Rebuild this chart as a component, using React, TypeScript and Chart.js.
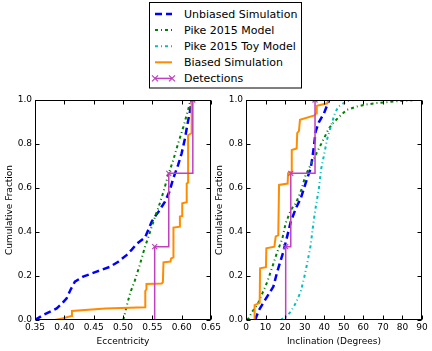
import React, { useEffect, useRef } from "react";
import { Chart, registerables } from "chart.js";

Chart.register(...registerables);

const FONT = "'DejaVu Sans', sans-serif";

// ---------- Eccentricity panel data ----------
const eccUnbiased: [number, number][] = [
  [0.35, 0], [0.364, 0.023], [0.387, 0.053], [0.396, 0.075], [0.404, 0.099], [0.411, 0.14],
  [0.418, 0.174], [0.432, 0.197], [0.455, 0.22], [0.478, 0.242], [0.492, 0.265], [0.506, 0.295],
  [0.515, 0.32], [0.523, 0.345], [0.5375, 0.375], [0.543, 0.409], [0.549, 0.447], [0.557, 0.48],
  [0.563, 0.5], [0.566, 0.515], [0.5716, 0.538], [0.579, 0.583], [0.5857, 0.644], [0.594, 0.705],
  [0.6, 0.758], [0.6057, 0.826], [0.6096, 0.886], [0.614, 0.947], [0.617, 1.0],
];
const eccPike: [number, number][] = [
  [0.5005, 0], [0.506, 0.06], [0.512, 0.121], [0.52, 0.178], [0.529, 0.254], [0.5375, 0.333],
  [0.543, 0.375], [0.549, 0.425], [0.556, 0.48], [0.56, 0.508], [0.569, 0.583], [0.577, 0.659],
  [0.5857, 0.727], [0.594, 0.803], [0.603, 0.879], [0.611, 0.955], [0.615, 1.0],
];
const eccBiased: [number, number][] = [
  [0.384, 0], [0.398, 0.008], [0.412, 0.018], [0.413, 0.041], [0.47, 0.052], [0.538, 0.058],
  [0.538, 0.132], [0.54, 0.14], [0.54, 0.164], [0.566, 0.166], [0.568, 0.172], [0.569, 0.262],
  [0.581, 0.266], [0.582, 0.28], [0.586, 0.285], [0.586, 0.42], [0.597, 0.424], [0.597, 0.47],
  [0.601, 0.473], [0.601, 0.53], [0.6086, 0.535], [0.6086, 0.62], [0.611, 0.625], [0.611, 0.84],
  [0.617, 0.85], [0.617, 1.0],
];
const eccDetections: number[] = [0.554, 0.578, 0.619];

// ---------- Inclination panel data ----------
const incUnbiased: [number, number][] = [
  [4.6, 0], [5.0, 0.008], [6.6, 0.045], [9.2, 0.083], [14.0, 0.152], [16.0, 0.22], [19.1, 0.31],
  [20.8, 0.371], [22.9, 0.447], [25.6, 0.51], [28.0, 0.553], [29.7, 0.6], [31.3, 0.644],
  [33.1, 0.69], [33.9, 0.735], [34.8, 0.795], [35.6, 0.856], [37.3, 0.9], [39.9, 0.94],
  [41.9, 0.985], [42.6, 1.0],
];
const incPike: [number, number][] = [
  [0.5, 0], [1.5, 0.01], [3.2, 0.038], [5.8, 0.068], [8.3, 0.12], [10.9, 0.174], [13.5, 0.242],
  [16.0, 0.31], [18.6, 0.371], [20.3, 0.44], [22.9, 0.5], [25.4, 0.53], [28.0, 0.583],
  [30.5, 0.659], [33.9, 0.72], [37.3, 0.78], [39.9, 0.826], [42.4, 0.871], [45.0, 0.9],
  [48.4, 0.93], [51.5, 0.955], [56.6, 0.97], [61.7, 0.98], [66.8, 0.986], [71.9, 0.99],
  [77.9, 0.995], [83.9, 0.998], [86.0, 1.0],
];
const incPikeToy: [number, number][] = [
  [17.7, 0], [20.5, 0.015], [22.9, 0.038], [25.4, 0.076], [28.0, 0.129], [29.7, 0.19],
  [31.3, 0.258], [33.1, 0.341], [33.9, 0.4], [34.8, 0.462], [35.6, 0.51], [37.3, 0.6],
  [38.5, 0.69], [39.9, 0.75], [41.6, 0.826], [43.6, 0.886], [45.5, 0.94], [47.2, 0.97],
  [49.8, 0.985], [52.3, 0.995], [55.0, 1.0],
];
const incBiased: [number, number][] = [
  [4.2, 0], [4.4, 0.068], [7.0, 0.078], [7.2, 0.235], [10.2, 0.24], [10.4, 0.326], [14.5, 0.333],
  [15.2, 0.38], [16.5, 0.385], [16.9, 0.614], [21.3, 0.62], [21.5, 0.667], [23.2, 0.674],
  [23.4, 0.773], [25.9, 0.78], [26.2, 0.85], [27.1, 0.86], [27.6, 0.91], [35.0, 0.93],
  [36.0, 0.94], [36.2, 0.974], [41.6, 0.985], [42.0, 1.0],
];
const incDetections: number[] = [20.3, 22.9, 35.3];

const yTickStep = 0.2;
const legendLabels = [
  "Unbiased Simulation",
  "Pike 2015 Model",
  "Pike 2015 Toy Model",
  "Biased Simulation",
  "Detections",
];

const BLUE = "#0000ff";
const GREEN = "#008000";
const CYAN = "#00bfbf";
const ORANGE = "#ff8c00";
const MAGENTA = "#c040c0";
const DASH = [7, 4];
const DASHDOT = [3, 3, 1, 3];

const pts = (a: [number, number][]) => a.map(([x, y]) => ({ x, y }));

function stepPoints(vals: number[]) {
  const n = vals.length;
  const out: { x: number; y: number }[] = [];
  vals.forEach((v, i) => {
    out.push({ x: v, y: i / n });
    out.push({ x: v, y: (i + 1) / n });
  });
  return out;
}

function lineDs(label: string, data: [number, number][], color: string, width: number, dash: number[], order: number) {
  return {
    label,
    data: pts(data),
    showLine: true,
    borderColor: color,
    backgroundColor: color,
    borderWidth: width,
    borderDash: dash,
    pointRadius: 0,
    tension: 0,
    order,
  };
}

function detDs(vals: number[]) {
  return {
    label: "Detections",
    data: stepPoints(vals),
    showLine: true,
    borderColor: MAGENTA,
    backgroundColor: MAGENTA,
    borderWidth: 1.5,
    pointStyle: "crossRot",
    pointBorderColor: MAGENTA,
    pointBorderWidth: 1.2,
    pointRadius: (c: any) => (c.dataIndex % 2 === 1 ? 3.5 : 0),
    order: 1,
  };
}

const framePlugin = {
  id: "frame",
  afterDraw(chart: any) {
    const { ctx, chartArea: a, scales } = chart;
    const L = Math.round(a.left) + 0.5;
    const R = Math.round(a.right) - 0.5;
    const T = Math.round(a.top) + 0.5;
    const B = Math.round(a.bottom) - 0.5;
    ctx.save();
    ctx.strokeStyle = "#000";
    ctx.lineWidth = 1;
    ctx.setLineDash([]);
    ctx.beginPath();
    const tl = 4;
    scales.x.ticks.forEach((t: any) => {
      const px = Math.round(scales.x.getPixelForValue(t.value)) + 0.5;
      ctx.moveTo(px, B);
      ctx.lineTo(px, B - tl);
      ctx.moveTo(px, T);
      ctx.lineTo(px, T + tl);
    });
    scales.y.ticks.forEach((t: any) => {
      const py = Math.round(scales.y.getPixelForValue(t.value)) + 0.5;
      ctx.moveTo(L, py);
      ctx.lineTo(L + tl, py);
      ctx.moveTo(R, py);
      ctx.lineTo(R - tl, py);
    });
    ctx.stroke();
    ctx.strokeRect(L, T, R - L, B - T);
    ctx.restore();
  },
};

function makeConfig(
  datasets: any[],
  xMin: number,
  xMax: number,
  xStep: number,
  xDigits: number,
  xTitle: string,
  yAxisWidth: number,
  yTitlePad: number,
  padRight: number
): any {
  const tickFont = { family: FONT, size: 9 };
  return {
    type: "scatter",
    data: { datasets },
    options: {
      animation: false,
      responsive: false,
      devicePixelRatio: 1,
      events: [],
      layout: { padding: { top: 10, right: padRight, left: 0, bottom: 0 } },
      plugins: { legend: { display: false }, tooltip: { enabled: false } },
      scales: {
        x: {
          type: "linear",
          min: xMin,
          max: xMax,
          grid: { display: false, drawTicks: false },
          border: { display: false },
          ticks: {
            stepSize: xStep,
            padding: 2,
            color: "#000",
            font: tickFont,
            maxRotation: 0,
            autoSkip: false,
            callback: (v: any) => Number(v).toFixed(xDigits),
          },
          title: {
            display: true,
            text: xTitle,
            color: "#000",
            font: tickFont,
            padding: { top: 0, bottom: 3.6 },
          },
          afterFit: (s: any) => {
            s.height = 31;
          },
        },
        y: {
          type: "linear",
          min: 0,
          max: 1,
          grid: { display: false, drawTicks: false },
          border: { display: false },
          ticks: {
            stepSize: yTickStep,
            padding: 3,
            color: "#000",
            font: tickFont,
            autoSkip: false,
            callback: (v: any) => Number(v).toFixed(1),
          },
          title: {
            display: true,
            text: "Cumulative Fraction",
            color: "#000",
            font: tickFont,
            padding: { top: yTitlePad, bottom: 0 },
          },
          afterFit: (s: any) => {
            s.width = yAxisWidth;
          },
        },
      },
    },
    plugins: [framePlugin],
  };
}

function Legend() {
  const styles = [
    { color: BLUE, dash: DASH, width: 2.5, marker: false },
    { color: GREEN, dash: DASHDOT, width: 2, marker: false },
    { color: CYAN, dash: DASHDOT, width: 2, marker: false },
    { color: ORANGE, dash: [] as number[], width: 2, marker: false },
    { color: MAGENTA, dash: [] as number[], width: 1.5, marker: true },
  ];
  return (
    <svg
      width={153}
      height={87}
      style={{ position: "absolute", left: 149, top: 2 }}
    >
      <rect x={0.5} y={0.5} width={152} height={85.5} fill="#fff" stroke="#000" strokeWidth={1} />
      {legendLabels.map((lab, i) => {
        const y = 12 + i * 16.1;
        const s = styles[i];
        return (
          <g key={lab}>
            <line
              x1={6}
              x2={23}
              y1={y}
              y2={y}
              stroke={s.color}
              strokeWidth={s.width}
              strokeDasharray={s.dash.length ? s.dash.join(" ") : undefined}
            />
            {s.marker &&
              [6, 23].map((mx) => (
                <g key={mx} stroke={s.color} strokeWidth={1.2}>
                  <line x1={mx - 3} y1={y - 3} x2={mx + 3} y2={y + 3} />
                  <line x1={mx - 3} y1={y + 3} x2={mx + 3} y2={y - 3} />
                </g>
              ))}
            <text
              x={35}
              y={y}
              dominantBaseline="central"
              fontFamily={FONT}
              fontSize={11}
              fill="#000"
            >
              {lab}
            </text>
          </g>
        );
      })}
    </svg>
  );
}

export default function App() {
  const leftRef = useRef<HTMLCanvasElement>(null);
  const rightRef = useRef<HTMLCanvasElement>(null);

  useEffect(() => {
    document.body.style.margin = "0";
    const left = new Chart(
      leftRef.current as HTMLCanvasElement,
      makeConfig(
        [
          lineDs("Unbiased Simulation", eccUnbiased, BLUE, 2.5, DASH, 5),
          lineDs("Pike 2015 Model", eccPike, GREEN, 2, DASHDOT, 4),
          lineDs("Biased Simulation", eccBiased, ORANGE, 2, [], 2),
          detDs(eccDetections),
        ],
        0.35,
        0.65,
        0.05,
        2,
        "Eccentricity",
        35,
        4.6,
        17
      )
    );
    const right = new Chart(
      rightRef.current as HTMLCanvasElement,
      makeConfig(
        [
          lineDs("Unbiased Simulation", incUnbiased, BLUE, 2.5, DASH, 5),
          lineDs("Pike 2015 Model", incPike, GREEN, 2, DASHDOT, 4),
          lineDs("Pike 2015 Toy Model", incPikeToy, CYAN, 2, DASHDOT, 3),
          lineDs("Biased Simulation", incBiased, ORANGE, 2, [], 2),
          detDs(incDetections),
        ],
        0,
        90,
        10,
        0,
        "Inclination (Degrees)",
        33,
        1.6,
        10
      )
    );
    return () => {
      left.destroy();
      right.destroy();
    };
  }, []);

  return (
    <div style={{ position: "relative", width: 432, height: 351, background: "#fff", overflow: "hidden" }}>
      <canvas ref={leftRef} width={228} height={261} style={{ position: "absolute", left: 0, top: 90 }} />
      <canvas ref={rightRef} width={219} height={261} style={{ position: "absolute", left: 213, top: 90 }} />
      <Legend />
    </div>
  );
}
